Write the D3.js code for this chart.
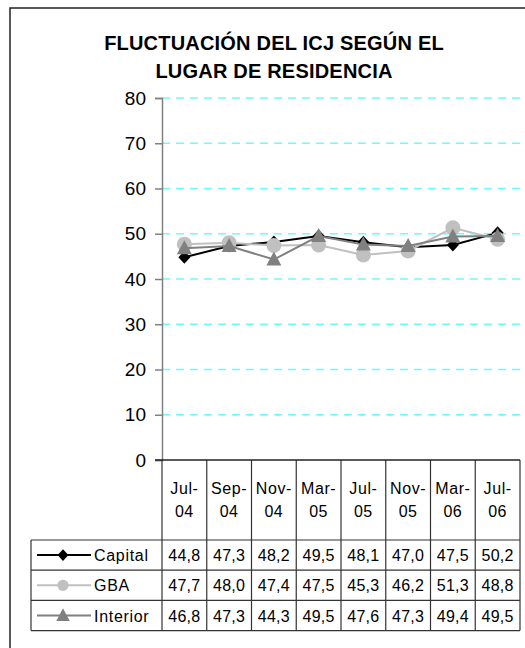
<!DOCTYPE html>
<html><head><meta charset="utf-8">
<script src="https://cdn.jsdelivr.net/npm/d3@7"></script>
<style>body{margin:0;background:#fff}svg{display:block;font-family:"Liberation Sans",Arial,sans-serif}</style>
</head><body>
<script>
const categories = ["Jul-04","Sep-04","Nov-04","Mar-05","Jul-05","Nov-05","Mar-06","Jul-06"];
const capital = [44.8,47.3,48.2,49.5,48.1,47.0,47.5,50.2];
const gba = [47.7,48.0,47.4,47.5,45.3,46.2,51.3,48.8];
const interior = [46.8,47.3,44.3,49.5,47.6,47.3,49.4,49.5];
const yTicks = [0,10,20,30,40,50,60,70,80];
const titleLines = ["FLUCTUACIÓN DEL ICJ SEGÚN EL","LUGAR DE RESIDENCIA"];

(function(){
const series = [
  {name:"Capital", values:capital, color:"#000000", marker:"diamond"},
  {name:"GBA", values:gba, color:"#c0c0c0", marker:"circle"},
  {name:"Interior", values:interior, color:"#808080", marker:"triangle"}
];

const W=525,H=648;
const svg=d3.select("body").append("svg").attr("width",W).attr("height",H);

// frame
svg.append("rect").attr("x",10).attr("y",8).attr("width",540).attr("height",680)
  .attr("fill","none").attr("stroke","#222").attr("stroke-width",1.5);

// title
svg.append("g").selectAll("text").data(titleLines).join("text")
  .attr("x",274).attr("y",(d,i)=>50+i*27.5).attr("text-anchor","middle")
  .attr("font-weight","bold").attr("font-size",20).attr("letter-spacing",0.2).attr("fill","#000")
  .text(d=>d);

const pLeft=162,pRight=520,pTop=98,pBottom=460;
const x=d3.scaleBand().domain(categories).range([pLeft,pRight]);
const y=d3.scaleLinear().domain([0,80]).range([pBottom,pTop]);

// gridlines
svg.append("g").selectAll("line").data(yTicks.filter(t=>t>0)).join("line")
  .attr("x1",pLeft).attr("x2",pRight).attr("y1",d=>y(d)).attr("y2",d=>y(d))
  .attr("stroke","#66ffff").attr("stroke-width",1.5).attr("stroke-dasharray","8,6");

// y axis
const ya=svg.append("g").attr("transform",`translate(${pLeft},0)`)
  .call(d3.axisLeft(y).tickValues(yTicks).tickSize(7).tickPadding(9).tickFormat(d3.format("d")));
ya.select(".domain").attr("stroke","#808080").attr("stroke-width",1.5);
ya.selectAll(".tick line").attr("stroke","#808080").attr("stroke-width",1.5);
ya.selectAll(".tick text").attr("font-size",19).attr("fill","#000").attr("font-family","Liberation Sans, Arial, sans-serif");

// data table
const tableTop=540,rowH=30.2,tableLeft=31,tableBottom=tableTop+rowH*3;
const tg=svg.append("g");
const colEdges=categories.map(c=>x(c)).concat([pRight]);
tg.selectAll("line.v").data(colEdges).join("line").attr("class","v")
  .attr("x1",d=>d).attr("x2",d=>d).attr("y1",pBottom).attr("y2",tableBottom)
  .attr("stroke","#333").attr("stroke-width",1.2);
tg.selectAll("line.h").data([0,1,2,3]).join("line").attr("class","h")
  .attr("x1",tableLeft).attr("x2",pRight).attr("y1",i=>tableTop+i*rowH).attr("y2",i=>tableTop+i*rowH)
  .attr("stroke","#333").attr("stroke-width",1.2);
tg.append("line").attr("x1",tableLeft).attr("x2",tableLeft).attr("y1",tableTop).attr("y2",tableBottom)
  .attr("stroke","#333").attr("stroke-width",1.2);
svg.append("line").attr("x1",pLeft-7).attr("x2",pRight).attr("y1",pBottom).attr("y2",pBottom)
  .attr("stroke","#222").attr("stroke-width",1.5);

// category labels
const cl=svg.append("g").selectAll("text").data(categories).join("text")
  .attr("text-anchor","middle").attr("font-size",16).attr("letter-spacing",0.6).attr("fill","#000");
cl.append("tspan").attr("x",d=>x(d)+x.bandwidth()/2).attr("y",494).text(d=>d.split("-")[0]+"-");
cl.append("tspan").attr("x",d=>x(d)+x.bandwidth()/2).attr("y",517).text(d=>d.split("-")[1]);

function drawMarker(g,type,color,cx,cy,scale){
  if(type==="diamond"){
    g.append("path").attr("d",`M${cx},${cy-6.5*scale}L${cx+6*scale},${cy}L${cx},${cy+6.5*scale}L${cx-6*scale},${cy}Z`).attr("fill",color);
  } else if(type==="circle"){
    g.append("circle").attr("cx",cx).attr("cy",cy).attr("r",7.5*scale).attr("fill",color);
  } else {
    g.append("path").attr("d",`M${cx},${cy-8*scale}L${cx+7.5*scale},${cy+6*scale}L${cx-7.5*scale},${cy+6*scale}Z`).attr("fill",color);
  }
}

series.forEach((s,i)=>{
  const cy=tableTop+rowH*i+rowH/2;
  tg.append("line").attr("x1",37).attr("x2",91).attr("y1",cy).attr("y2",cy).attr("stroke",s.color).attr("stroke-width",2);
  drawMarker(tg,s.marker,s.color,63,cy,s.marker==="circle"?0.75:0.9);
  tg.append("text").attr("x",94).attr("y",cy+6).attr("font-size",16).attr("letter-spacing",0.7).text(s.name);
  tg.selectAll(null).data(s.values).join("text")
    .attr("x",(d,j)=>x(categories[j])+x.bandwidth()/2).attr("y",cy+6)
    .attr("text-anchor","middle").attr("font-size",16).attr("letter-spacing",0.3)
    .text(d=>d.toFixed(1).replace(".",","));
});

const line=d3.line().x((d,i)=>x(categories[i])+x.bandwidth()/2).y(d=>y(d));
series.forEach(s=>{
  const g=svg.append("g");
  g.append("path").datum(s.values).attr("d",line).attr("fill","none").attr("stroke",s.color).attr("stroke-width",2);
  s.values.forEach((v,i)=>drawMarker(g,s.marker,s.color,x(categories[i])+x.bandwidth()/2,y(v),1));
});
})();
</script>
</body></html>
